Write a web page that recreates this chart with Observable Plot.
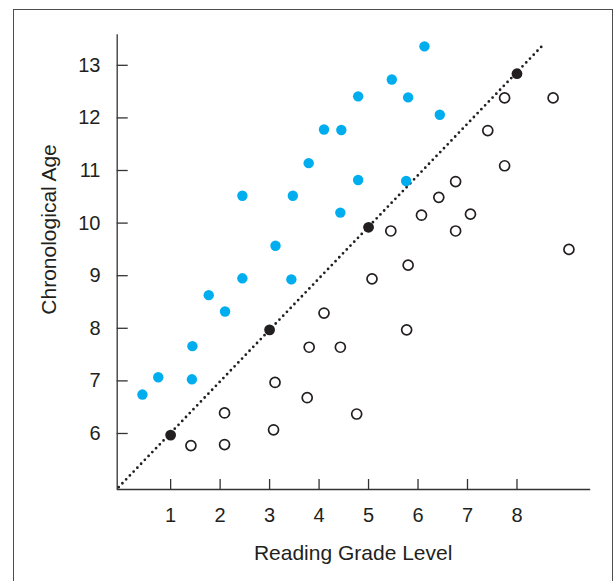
<!DOCTYPE html>
<html><head><meta charset="utf-8">
<script src="https://cdn.jsdelivr.net/npm/d3@7"></script>
<script src="https://cdn.jsdelivr.net/npm/@observablehq/plot@0.6"></script>
<style>
html,body{margin:0;padding:0;background:#fff;}
#wrap{position:relative;width:616px;height:581px;overflow:hidden;}
#frame{position:absolute;left:12.5px;top:9.2px;width:598.5px;height:600px;border:1.7px solid #4d4d4d;border-bottom:none;pointer-events:none;}
</style></head><body><div id="wrap"><div id="chart"></div><div id="frame"></div></div>
<script>
// Data
const blueX = [6.13,5.47,4.79,5.80,6.44,4.10,4.45,3.79,4.79,5.76,2.45,3.47,4.43,3.12,2.45,3.44,1.77,2.10,1.44,0.75,1.43,0.43];
const blueY = [13.36,12.73,12.41,12.39,12.06,11.78,11.77,11.14,10.82,10.80,10.52,10.52,10.20,9.57,8.95,8.93,8.63,8.32,7.66,7.07,7.03,6.74];
const openX = [7.75,8.73,7.41,7.75,6.76,6.42,6.07,7.06,5.45,6.76,9.05,5.80,5.07,4.10,5.77,3.80,4.43,3.11,3.76,2.09,4.76,3.08,1.41,2.09];
const openY = [12.38,12.38,11.76,11.09,10.79,10.49,10.15,10.17,9.85,9.85,9.50,9.20,8.94,8.29,7.97,7.64,7.64,6.97,6.68,6.39,6.37,6.07,5.77,5.79];
const blackX = [1,3,5,8];
const blackY = [5.97,7.97,9.92,12.84];
const lineX = [-0.05, 8.53];
const lineY = [4.98, 13.39];
const xTicks = [1,2,3,4,5,6,7,8];
const yTicks = [6,7,8,9,10,11,12,13];
const xLabel = "Reading Grade Level";
const yLabel = "Chronological Age";
const xDomain = [-0.08, 9.49];
const yDomain = [4.935, 13.58];

const blue = blueX.map((x,i)=>({x, y: blueY[i]}));
const open = openX.map((x,i)=>({x, y: openY[i]}));
const black = blackX.map((x,i)=>({x, y: blackY[i]}));
const line = lineX.map((x,i)=>({x, y: lineY[i]}));

const W=616, H=581, mL=116.7, mT=34.3, mB=92, mR=25.8;
const plotH = H - mT - mB, plotW = W - mL - mR;
const ink = "#231f20", axisInk = "#333";
const font = "'Liberation Sans', Arial, Helvetica, sans-serif";

const chart = Plot.plot({
  width: W, height: H,
  marginLeft: mL, marginTop: mT, marginBottom: mB, marginRight: mR,
  style: {fontFamily: font, color: ink, background: "transparent"},
  x: {domain: xDomain, label: null},
  y: {domain: yDomain, label: null},
  marks: [
    Plot.ruleX([xDomain[0]], {stroke: axisInk, strokeWidth: 1.3}),
    Plot.ruleY([yDomain[0]], {stroke: axisInk, strokeWidth: 1.3}),
    Plot.tickX(xTicks, {x: d=>d, insetTop: plotH - 10, stroke: axisInk, strokeWidth: 1.3}),
    Plot.tickY(yTicks, {y: d=>d, insetRight: plotW - 11, stroke: axisInk, strokeWidth: 1.3}),
    Plot.axisX(xTicks, {tickSize: 0, tickPadding: 17.8, fontSize: 20, fill: ink, tickFormat: d3.format("d")}),
    Plot.axisY(yTicks, {tickSize: 0, tickPadding: 16.7, fontSize: 20, fill: ink, tickFormat: d3.format("d")}),
    Plot.line(line, {x: "x", y: "y", stroke: ink, strokeWidth: 2.8, strokeDasharray: "0,5.4", strokeLinecap: "round"}),
    Plot.dot(blue, {x: "x", y: "y", r: 5.2, fill: "#00aeef", stroke: null}),
    Plot.dot(open, {x: "x", y: "y", r: 5, fill: "white", stroke: ink, strokeWidth: 1.7}),
    Plot.dot(black, {x: "x", y: "y", r: 5.4, fill: ink, stroke: null}),
    Plot.text([xLabel], {frameAnchor: "bottom", dy: 70, dx: -0.8, lineAnchor: "bottom", textAnchor: "middle", fontSize: 21, fill: ink}),
    Plot.text([yLabel], {frameAnchor: "left", rotate: -90, dx: -67.7, dy: -32.7, lineAnchor: "middle", textAnchor: "middle", fontSize: 21, fill: ink})
  ]
});
document.getElementById("chart").appendChild(chart);
</script>
</body></html>
